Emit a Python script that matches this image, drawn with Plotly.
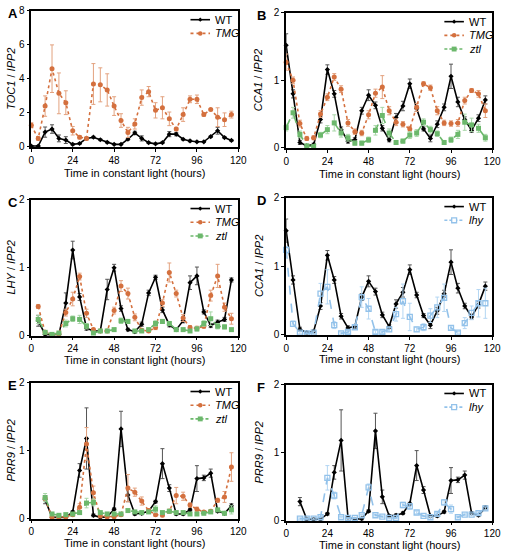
import plotly.graph_objects as go

# ---------------- data ----------------
t_full = list(range(0, 120, 4))      # 0..116
t_c = list(range(4, 120, 4))         # 4..116
t_e = list(range(8, 120, 4))         # 8..116

# Panel A: TOC1 / IPP2
A_wt = [0.05, 0.05, 0.87, 1.05, 0.5, 0.4, 0.15, 0.2, 0.5, 0.57, 0.42, 0.27, 0.15, 0.15, 0.45,
        0.82, 0.5, 0.25, 0.18, 0.25, 0.75, 0.75, 0.45, 0.35, 0.3, 0.3, 0.6, 0.95, 0.55, 0.38]
A_wt_err = [0.03, 0.03, 0.3, 0.25, 0.2, 0.2, 0.05, 0.05, 0.05, 0.05, 0.05, 0.05, 0.03, 0.03, 0.05,
            0.1, 0.15, 0.05, 0.03, 0.05, 0.15, 0.1, 0.05, 0.05, 0.03, 0.03, 0.05, 0.2, 0.05, 0.05]
A_tmg = [1.27, 0.5, 2.4, 4.6, 3.15, 2.6, 0.95, 0.57, 0.5, 3.7, 3.65, 3.35, 2.4, 1.55, 0.85,
         1.35, 2.9, 3.25, 2.15, 2.3, 1.65, 1.05, 1.9, 2.8, 2.8, 1.9, 2.2, 1.75, 1.6, 1.9]
A_tmg_err = [0.15, 0.1, 0.6, 1.4, 1.2, 0.7, 0.25, 0.1, 0.1, 1.2, 1.0, 0.95, 0.55, 0.4, 0.3,
             0.3, 0.45, 0.3, 0.45, 0.65, 0.4, 0.1, 0.4, 0.2, 0.25, 0.1, 0.05, 0.55, 0.4, 0.2]

# Panel B / D: CCA1 / IPP2
cca1_wt = [1.52, 0.8, 0.08, 0.03, 0.05, 0.42, 1.16, 0.8, 0.27, 0.1, 0.12, 0.55, 0.78, 0.63, 0.29,
           0.12, 0.45, 0.62, 0.95, 0.58, 0.28, 0.14, 0.35, 0.6, 1.06, 0.68, 0.42, 0.26, 0.44, 0.71]
cca1_wt_err = [0.17, 0.06, 0.03, 0.02, 0.02, 0.05, 0.07, 0.05, 0.04, 0.03, 0.03, 0.05, 0.08, 0.05, 0.04,
               0.03, 0.06, 0.07, 0.07, 0.04, 0.03, 0.05, 0.05, 0.05, 0.18, 0.07, 0.04, 0.03, 0.05, 0.06]
B_tmg = [1.27, 1.0, 0.36, 0.14, 0.15, 0.5, 0.75, 1.05, 0.87, 0.37, 0.24, 0.22, 0.49, 0.81, 0.9,
         0.55, 0.38, 0.35, 0.28, 0.6, 0.95, 0.89, 0.55, 0.37, 0.36, 0.37, 0.7, 0.85, 0.8, 0.55]
B_tmg_err = [0.12, 0.05, 0.05, 0.03, 0.03, 0.05, 0.05, 0.05, 0.05, 0.05, 0.04, 0.04, 0.06, 0.06, 0.17,
             0.06, 0.05, 0.04, 0.04, 0.06, 0.03, 0.04, 0.06, 0.04, 0.04, 0.05, 0.05, 0.03, 0.05, 0.1]
B_ztl = [0.3, 0.52, 0.2, 0.03, 0.02, 0.19, 0.27, 0.37, 0.22, 0.15, 0.07, 0.07, 0.12, 0.26, 0.48,
         0.22, 0.08, 0.1, 0.19, 0.22, 0.38, 0.27, 0.21, 0.08, 0.12, 0.2, 0.38, 0.34, 0.29, 0.15]
B_ztl_err = [0.05, 0.08, 0.05, 0.02, 0.02, 0.04, 0.06, 0.12, 0.06, 0.05, 0.03, 0.03, 0.04, 0.07, 0.12,
             0.06, 0.03, 0.03, 0.05, 0.05, 0.05, 0.05, 0.04, 0.03, 0.04, 0.06, 0.12, 0.1, 0.06, 0.05]
D_lhy = [1.24, 0.16, 0.03, 0.02, 0.03, 0.6, 0.7, 0.14, 0.02, 0.04, 0.11, 0.55, 0.38, 0.04, 0.04,
         0.08, 0.3, 0.49, 0.26, 0.08, 0.11, 0.28, 0.4, 0.54, 0.1, 0.03, 0.17, 0.32, 0.46, 0.46]
D_lhy_err = [0.05, 0.04, 0.02, 0.02, 0.02, 0.15, 0.25, 0.05, 0.02, 0.02, 0.03, 0.15, 0.15, 0.02, 0.02,
             0.03, 0.1, 0.25, 0.2, 0.03, 0.05, 0.1, 0.15, 0.2, 0.03, 0.02, 0.08, 0.1, 0.2, 0.22]

# Panel C: LHY / IPP2
C_wt = [0.22, 0.02, 0.01, 0.02, 0.48, 1.26, 0.57, 0.11, 0.07, 0.07, 0.68, 1.0, 0.4, 0.09, 0.06,
        0.17, 0.63, 0.86, 0.38, 0.16, 0.09, 0.22, 0.78, 0.88, 0.35, 0.15, 0.2, 0.24, 0.82]
C_wt_err = [0.08, 0.02, 0.01, 0.02, 0.15, 0.13, 0.05, 0.03, 0.02, 0.02, 0.15, 0.05, 0.04, 0.02, 0.02,
            0.03, 0.04, 0.03, 0.04, 0.03, 0.02, 0.03, 0.1, 0.13, 0.03, 0.03, 0.03, 0.03, 0.03]
C_tmg = [0.43, 0.05, 0.02, 0.03, 0.34, 0.54, 0.87, 0.33, 0.09, 0.07, 0.07, 0.37, 0.73, 0.62, 0.27,
         0.08, 0.07, 0.12, 0.48, 0.93, 0.62, 0.26, 0.12, 0.11, 0.14, 0.59, 0.88, 0.42, 0.25]
C_tmg_err = [0.03, 0.02, 0.01, 0.02, 0.05, 0.1, 0.05, 0.06, 0.02, 0.02, 0.02, 0.05, 0.08, 0.08, 0.05,
             0.02, 0.02, 0.03, 0.05, 0.14, 0.05, 0.05, 0.03, 0.03, 0.03, 0.08, 0.17, 0.06, 0.08]
C_ztl = [0.24, 0.05, 0.02, 0.04, 0.18, 0.25, 0.24, 0.14, 0.04, 0.07, 0.07, 0.09, 0.22, 0.21, 0.07,
         0.07, 0.09, 0.18, 0.21, 0.18, 0.09, 0.09, 0.07, 0.1, 0.18, 0.25, 0.14, 0.13, 0.09]
C_ztl_err = [0.06, 0.02, 0.01, 0.02, 0.05, 0.04, 0.06, 0.04, 0.02, 0.02, 0.02, 0.02, 0.04, 0.03, 0.02,
             0.02, 0.02, 0.04, 0.03, 0.03, 0.02, 0.02, 0.02, 0.03, 0.04, 0.1, 0.04, 0.03, 0.02]

# Panel E / F: PRR9 / IPP2
prr9_wt = [0.28, 0.02, 0.02, 0.02, 0.1, 0.71, 1.18, 0.05, 0.02, 0.03, 0.14, 1.32, 0.35, 0.07,
           0.08, 0.11, 0.25, 0.81, 0.45, 0.07, 0.07, 0.13, 0.59, 0.6, 0.67, 0.11, 0.08, 0.19]
prr9_wt_err = [0.06, 0.02, 0.02, 0.02, 0.02, 0.1, 0.45, 0.02, 0.02, 0.02, 0.02, 0.26, 0.1, 0.02,
               0.02, 0.02, 0.02, 0.22, 0.05, 0.02, 0.02, 0.02, 0.19, 0.04, 0.06, 0.02, 0.02, 0.03]
E_tmg = [0.3, 0.02, 0.02, 0.03, 0.06, 0.17, 1.1, 0.38, 0.04, 0.03, 0.03, 0.06, 0.45, 0.39,
         0.26, 0.12, 0.06, 0.05, 0.11, 0.34, 0.33, 0.2, 0.14, 0.1, 0.11, 0.27, 0.32, 0.76]
E_tmg_err = [0.03, 0.02, 0.02, 0.02, 0.02, 0.05, 0.24, 0.1, 0.02, 0.02, 0.02, 0.02, 0.2, 0.06,
             0.06, 0.03, 0.02, 0.02, 0.03, 0.12, 0.06, 0.03, 0.03, 0.02, 0.02, 0.03, 0.08, 0.21]
E_ztl = [0.31, 0.07, 0.05, 0.06, 0.07, 0.09, 0.23, 0.24, 0.09, 0.07, 0.07, 0.07, 0.12, 0.1,
         0.09, 0.1, 0.14, 0.09, 0.11, 0.09, 0.09, 0.07, 0.07, 0.08, 0.1, 0.13, 0.08, 0.13]
E_ztl_err = [0.06, 0.02, 0.02, 0.02, 0.02, 0.02, 0.07, 0.05, 0.02, 0.02, 0.02, 0.02, 0.02, 0.02,
             0.02, 0.02, 0.05, 0.02, 0.02, 0.02, 0.02, 0.02, 0.02, 0.02, 0.02, 0.02, 0.02, 0.06]
F_lhy = [0.03, 0.03, 0.03, 0.05, 0.63, 0.37, 0.05, 0.04, 0.04, 0.08, 0.49, 0.08, 0.06, 0.04,
         0.04, 0.23, 0.21, 0.12, 0.07, 0.05, 0.1, 0.27, 0.17, 0.05, 0.09, 0.09, 0.11, 0.18]
F_lhy_err = [0.01, 0.01, 0.01, 0.01, 0.18, 0.05, 0.01, 0.01, 0.01, 0.01, 0.05, 0.01, 0.01, 0.01,
             0.01, 0.04, 0.04, 0.02, 0.01, 0.01, 0.02, 0.04, 0.06, 0.01, 0.01, 0.01, 0.02, 0.02]

x_ticks = [0, 24, 48, 72, 96, 120]
x_title = "Time in constant light (hours)"
panel_letters = ["A", "B", "C", "D", "E", "F"]
y_titles = ["<i>TOC1</i> / <i>IPP2</i>", "<i>CCA1</i> / <i>IPP2</i>", "<i>LHY</i> / <i>IPP2</i>",
            "<i>CCA1</i> / <i>IPP2</i>", "<i>PRR9</i> / <i>IPP2</i>", "<i>PRR9</i> / <i>IPP2</i>"]
y_max = [8, 2, 2, 2, 2, 2]
y_dtick = [2, 1, 1, 1, 1, 1]

# ---------------- styles ----------------
FONT = "Arial, Liberation Sans, Helvetica, sans-serif"
STY = {
    "WT": dict(name="WT", color="black", dash="solid",
               marker=dict(symbol="diamond", size=4, color="black"), ecol="#555555", msym="diamond"),
    "TMG": dict(name="<i>TMG</i>", color="#d4703e", dash="dot",
                marker=dict(symbol="circle", size=5, color="#d4703e"), ecol="#e3a27f", msym="circle"),
    "ztl": dict(name="<i>ztl</i>", color="#6cb86c", dash="dash",
                marker=dict(symbol="square", size=5, color="#6cb86c"), ecol="#a7d6a7", msym="square"),
    "lhy": dict(name="<i>lhy</i>", color="#93c2ea", dash="dash",
                marker=dict(symbol="square-open", size=5, color="#93c2ea", line=dict(width=1.3)),
                ecol="#b3d6f3", msym="square-open"),
}

panels = [
    [("WT", t_full, A_wt, A_wt_err), ("TMG", t_full, A_tmg, A_tmg_err)],
    [("WT", t_full, cca1_wt, cca1_wt_err), ("TMG", t_full, B_tmg, B_tmg_err), ("ztl", t_full, B_ztl, B_ztl_err)],
    [("WT", t_c, C_wt, C_wt_err), ("TMG", t_c, C_tmg, C_tmg_err), ("ztl", t_c, C_ztl, C_ztl_err)],
    [("WT", t_full, cca1_wt, cca1_wt_err), ("lhy", t_full, D_lhy, D_lhy_err)],
    [("WT", t_e, prr9_wt, prr9_wt_err), ("TMG", t_e, E_tmg, E_tmg_err), ("ztl", t_e, E_ztl, E_ztl_err)],
    [("WT", t_e, prr9_wt, prr9_wt_err), ("lhy", t_e, F_lhy, F_lhy_err)],
]

W, H = 510, 557
# pixel boxes (left, right, top, bottom)
boxes = [(29, 241, 5, 144), (290, 501, 7, 145),
         (29, 241, 198, 337), (290, 501, 196, 336),
         (29, 241, 385, 524), (290, 501, 387, 526)]
xtitle_off = [27, 27, 25, 25, 25, 25]


def px(x):
    return x / W


def py(y):
    return 1 - y / H


fig = go.Figure()
annotations = []
shapes = []
layout = dict(width=W, height=H, margin=dict(l=0, r=0, t=0, b=0),
              paper_bgcolor="white", plot_bgcolor="white", showlegend=False,
              font=dict(family=FONT, size=11, color="black"))

for i, (series, box) in enumerate(zip(panels, boxes)):
    k = i + 1
    xa = "x" if k == 1 else f"x{k}"
    ya = "y" if k == 1 else f"y{k}"
    l, r, t, b = box
    for j, (key, tx, vals, errs) in enumerate(series):
        s = STY[key]
        fig.add_trace(go.Scatter(
            x=tx, y=vals, mode="lines+markers", name=s["name"],
            line=dict(color=s["color"], width=1.6, dash=s["dash"]),
            marker=s["marker"], cliponaxis=False,
            error_y=dict(type="data", array=errs, visible=True, color=s["ecol"], thickness=1, width=2),
            xaxis=xa, yaxis=ya))
        # manual compact legend entry
        yc = t + 9 + 14 * j
        x0, x1 = r - 49, r - 29
        xm = (x0 + x1) / 2
        shapes.append(dict(type="line", xref="paper", yref="paper",
                           x0=px(x0), x1=px(x1), y0=py(yc), y1=py(yc),
                           line=dict(color=s["color"], width=1.6, dash=s["dash"] if s["dash"] != "dash" else "3px,2px")))
        m = s["msym"]
        if m == "circle":
            shapes.append(dict(type="circle", xref="paper", yref="paper",
                               x0=px(xm - 2.3), x1=px(xm + 2.3), y0=py(yc + 2.3), y1=py(yc - 2.3),
                               fillcolor=s["color"], line=dict(width=0)))
        elif m == "square":
            shapes.append(dict(type="rect", xref="paper", yref="paper",
                               x0=px(xm - 2.5), x1=px(xm + 2.5), y0=py(yc + 2.5), y1=py(yc - 2.5),
                               fillcolor=s["color"], line=dict(width=0)))
        elif m == "square-open":
            shapes.append(dict(type="rect", xref="paper", yref="paper",
                               x0=px(xm - 2.5), x1=px(xm + 2.5), y0=py(yc + 2.5), y1=py(yc - 2.5),
                               fillcolor="white", line=dict(color=s["color"], width=1.3)))
        else:
            shapes.append(dict(type="path", xref="paper", yref="paper",
                               path=f"M {px(xm - 2.2)},{py(yc)} L {px(xm)},{py(yc - 2.2)} L {px(xm + 2.2)},{py(yc)} L {px(xm)},{py(yc + 2.2)} Z",
                               fillcolor="black", line=dict(width=0)))
        annotations.append(dict(text=s["name"], x=px(r - 26), xanchor="left", y=py(yc), yanchor="middle",
                                xref="paper", yref="paper", showarrow=False, font=dict(size=11, family=FONT)))

    axcommon = dict(showline=True, linecolor="black", linewidth=1.5, mirror=True,
                    ticks="outside", ticklen=3, tickwidth=1.2, tickcolor="black",
                    showgrid=False, zeroline=False, tickfont=dict(size=10))
    layout["xaxis" if k == 1 else f"xaxis{k}"] = dict(
        domain=[px(l), px(r)], range=[0, 120], tickvals=x_ticks, anchor=ya, **axcommon)
    layout["yaxis" if k == 1 else f"yaxis{k}"] = dict(
        domain=[py(b), py(t)], range=[0, y_max[i]], dtick=y_dtick[i], anchor=xa, **axcommon)
    # axis titles
    annotations.append(dict(text=x_title, x=px((l + r) / 2), xanchor="center",
                            y=py(b + xtitle_off[i]), yanchor="middle", xref="paper", yref="paper",
                            showarrow=False, font=dict(size=11, family=FONT)))
    annotations.append(dict(text=y_titles[i], x=px(8 if l < 100 else 262), xanchor="center",
                            y=py((t + b) / 2), yanchor="middle", xref="paper", yref="paper",
                            textangle=-90, showarrow=False, font=dict(size=11, family=FONT)))
    # panel letter
    annotations.append(dict(text=f"<b>{panel_letters[i]}</b>", x=px(3 if l < 100 else 258), xanchor="left",
                            y=py(t + 3), yanchor="middle", xref="paper", yref="paper",
                            showarrow=False, font=dict(size=13, family=FONT)))

layout["annotations"] = annotations
layout["shapes"] = shapes
fig.update_layout(**layout)
fig.write_html("out.html", config={"displayModeBar": False},
               post_script="document.body.style.margin='0';document.body.style.padding='0';")
